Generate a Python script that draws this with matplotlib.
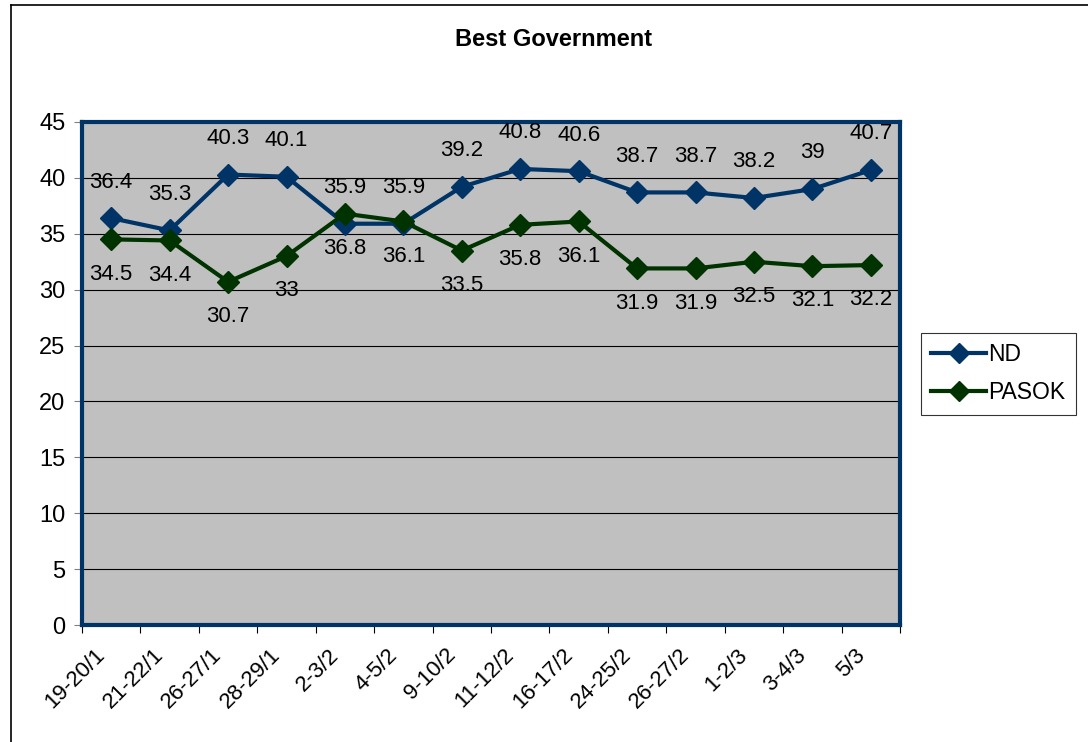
import numpy as np
import matplotlib.pyplot as plt
import matplotlib.transforms as mtransforms
from matplotlib.lines import Line2D

plt.rcParams['font.family'] = ['Liberation Sans', 'DejaVu Sans']

dates = ['19-20/1', '21-22/1', '26-27/1', '28-29/1', '2-3/2', '4-5/2', '9-10/2',
         '11-12/2', '16-17/2', '24-25/2', '26-27/2', '1-2/3', '3-4/3', '5/3']
nd = [36.4, 35.3, 40.3, 40.1, 35.9, 35.9, 39.2, 40.8, 40.6, 38.7, 38.7, 38.2, 39, 40.7]
pasok = [34.5, 34.4, 30.7, 33, 36.8, 36.1, 33.5, 35.8, 36.1, 31.9, 31.9, 32.5, 32.1, 32.2]

nd_color = '#003366'
pasok_color = '#003300'

fig = plt.figure(figsize=(10.88, 7.42), dpi=100)
ax = fig.add_axes([82/1088, 1 - 625/742, 818/1088, 503/742])
ax.set_facecolor('#C0C0C0')

x = np.arange(len(dates)) + 0.5
ax.plot(x, nd, color=nd_color, lw=3, marker='D', ms=11.5, label='ND', zorder=4)
ax.plot(x, pasok, color=pasok_color, lw=3, marker='D', ms=11.5, label='PASOK', zorder=4)

for xi, v in zip(x, nd):
    ax.annotate('%g' % v, (xi, v), xytext=(0, 26), textcoords='offset points',
                ha='center', va='center', fontsize=16)
for xi, v in zip(x, pasok):
    ax.annotate('%g' % v, (xi, v), xytext=(0, -25), textcoords='offset points',
                ha='center', va='center', fontsize=16)

ax.set_xlim(0, len(dates))
ax.set_ylim(0, 45)
ax.set_yticks(range(0, 46, 5))
ax.yaxis.grid(True, color='black', lw=0.8)
ax.set_axisbelow(True)
ax.set_xticks(np.arange(len(dates) + 1))
ax.set_xticklabels([])
ax.set_xticks(x, minor=True)
ax.set_xticklabels(dates, minor=True, rotation=45, ha='right', rotation_mode='anchor')
ax.tick_params(axis='x', which='minor', length=0, pad=8, labelsize=16)
ax.tick_params(axis='x', which='major', length=6, color='black', direction='out')
ax.tick_params(axis='y', length=6, color='gray', labelsize=17, pad=6)
shift = mtransforms.ScaledTranslation(-12/72, -6/72, fig.dpi_scale_trans)
for lab in ax.get_xticklabels(minor=True):
    lab.set_transform(lab.get_transform() + shift)
for s in ax.spines.values():
    s.set_color(nd_color)
    s.set_linewidth(3)

fig.text(554/1088, 1 - 40/742, 'Best Government', fontsize=17, fontweight='bold',
         ha='center', va='center')

handles = [Line2D([], [], color=nd_color, lw=3, marker='D', ms=10),
           Line2D([], [], color=pasok_color, lw=3, marker='D', ms=10)]
leg = fig.legend(handles, ['ND', 'PASOK'], loc='upper left',
                 bbox_to_anchor=(921/1088, 1 - 333/742), fontsize=16.5,
                 frameon=True, fancybox=False, edgecolor='black',
                 handlelength=2.4, handletextpad=0.1, borderpad=0.45, borderaxespad=0,
                 labelspacing=0.65)
leg.get_frame().set_linewidth(0.8)

fig.add_artist(Line2D([11/1088, 11/1088], [0, 1 - 5/742], color='black', lw=1.2))
fig.add_artist(Line2D([11/1088, 1], [1 - 5/742, 1 - 5/742], color='black', lw=1.2))

fig.savefig('out.png', dpi=100)
